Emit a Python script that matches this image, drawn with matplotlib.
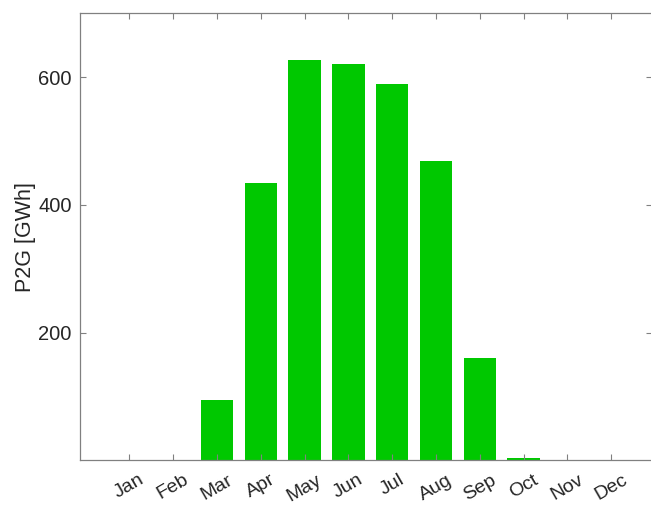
import numpy as np
import matplotlib.pyplot as plt

# Monthly P2G energy [GWh]
months = ['Jan', 'Feb', 'Mar', 'Apr', 'May', 'Jun', 'Jul', 'Aug', 'Sep', 'Oct', 'Nov', 'Dec']
p2g = [0, 0, 94, 435, 627, 620, 590, 469, 160, 4, 0, 0]

plt.rcParams['font.family'] = ['Liberation Sans', 'DejaVu Sans']

fig = plt.figure(figsize=(6.51, 5.07), dpi=100)
ax = fig.add_axes([80 / 651, 1 - 460.3 / 507, 572 / 651, 447 / 507])

x = np.arange(1, len(months) + 1)
ax.bar(x, p2g, width=0.74, color='#00c800', edgecolor='none')

ax.set_xlim(-0.125, 12.93)
ax.set_ylim(0, 700)
ax.set_yticks([200, 400, 600])
ax.set_xticks(x)
ax.set_xticklabels(months, rotation=30, ha='center', fontsize=14, color='#262626')
ax.tick_params(axis='y', labelsize=14.5, labelcolor='#262626', pad=6)
ax.tick_params(axis='x', pad=8)
ax.tick_params(direction='in', length=4, color='#808080', top=True, right=True)
ax.set_ylabel('P2G [GWh]', fontsize=15.5, color='#262626')
ax.yaxis.set_label_coords(-0.077, 0.5)

for s in ax.spines.values():
    s.set_color('#808080')
    s.set_linewidth(0.9)

fig.savefig('out.png', dpi=100)
